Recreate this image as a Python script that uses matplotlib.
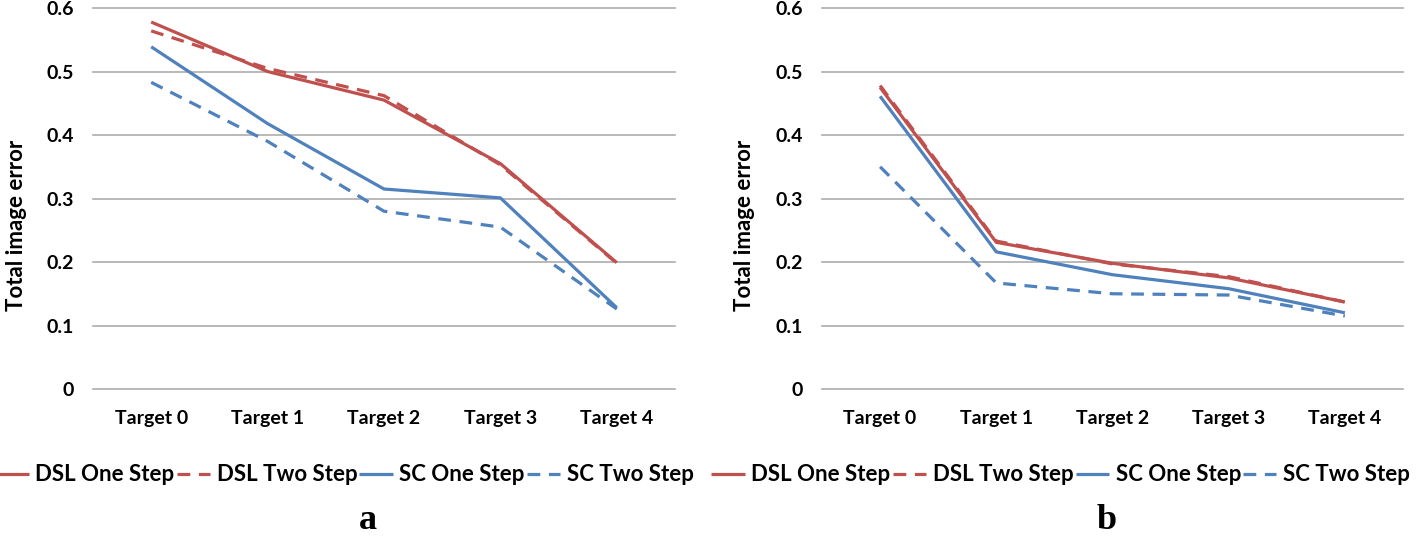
import matplotlib
matplotlib.use("Agg")
import matplotlib.pyplot as plt

# categorias del eje x
targets = ["Target 0", "Target 1", "Target 2", "Target 3", "Target 4"]
series_names = ["DSL One Step", "DSL Two Step", "SC One Step", "SC Two Step"]

# panel a
a_dsl_one = [0.578, 0.500, 0.455, 0.355, 0.199]
a_dsl_two = [0.564, 0.505, 0.462, 0.353, 0.198]
a_sc_one = [0.539, 0.418, 0.315, 0.301, 0.128]
a_sc_two = [0.483, 0.390, 0.280, 0.255, 0.126]

# panel b
b_dsl_one = [0.475, 0.231, 0.198, 0.175, 0.137]
b_dsl_two = [0.478, 0.233, 0.197, 0.177, 0.137]
b_sc_one = [0.461, 0.216, 0.180, 0.158, 0.120]
b_sc_two = [0.350, 0.167, 0.150, 0.148, 0.115]

yticks = [0, 0.1, 0.2, 0.3, 0.4, 0.5, 0.6]
ytick_labels = ["0", "0.1", "0.2", "0.3", "0.4", "0.5", "0.6"]

RED = "#C0504D"
BLUE = "#4F81BD"
GRID = "#ADADAD"
FONT = ["Lato", "DejaVu Sans"]

plt.rcParams["font.family"] = FONT
plt.rcParams["font.weight"] = "bold"


def panel(ax, dsl_one, dsl_two, sc_one, sc_two):
    x = list(range(len(targets)))
    styles = [(dsl_one, RED, None), (dsl_two, RED, (4, 2.7)),
              (sc_one, BLUE, None), (sc_two, BLUE, (4, 2.7))]
    lines = []
    for (vals, col, dash), name in zip(styles, series_names):
        ln, = ax.plot(x, vals, color=col, lw=2.3, label=name,
                      solid_capstyle="butt", dash_capstyle="butt")
        if dash is not None:
            ln.set_dashes(dash)
        lines.append(ln)
    ax.set_xlim(-0.5, len(targets) - 0.5)
    ax.set_ylim(0, 0.6)
    ax.set_yticks(yticks)
    ax.set_yticklabels(ytick_labels)
    ax.set_xticks(x)
    ax.set_xticklabels(targets)
    for y in yticks:
        ax.axhline(y, color=GRID, lw=1.2, zorder=0, clip_on=False)
    for s in ax.spines.values():
        s.set_visible(False)
    ax.tick_params(axis="y", length=0, pad=14, labelsize=14)
    ax.tick_params(axis="x", length=0, pad=15, labelsize=14)
    ax.set_ylabel("Total image error", fontsize=16, fontweight="bold")
    return lines


fig = plt.figure(figsize=(14.18, 5.37), dpi=100)
ax1 = fig.add_axes([0.0656, 0.2756, 0.4104, 0.7094])
ax2 = fig.add_axes([0.5797, 0.2756, 0.4097, 0.7094])

l1 = panel(ax1, a_dsl_one, a_dsl_two, a_sc_one, a_sc_two)
l2 = panel(ax2, b_dsl_one, b_dsl_two, b_sc_one, b_sc_two)
ax1.yaxis.set_label_coords(-0.113, 0.43)
ax2.yaxis.set_label_coords(-0.115, 0.43)

for lines, cx in [(l1, 0.243), (l2, 0.748)]:
    fig.legend(lines, series_names, loc="center", bbox_to_anchor=(cx, 0.1155),
               ncol=4, frameon=False, fontsize=16, handlelength=1.5,
               handletextpad=0.3, columnspacing=0.1, borderaxespad=0)

fig.text(0.2595, 0.0, "a", ha="center", va="bottom", fontsize=26,
         fontweight="bold", family="Liberation Serif")
fig.text(0.7807, 0.0, "b", ha="center", va="bottom", fontsize=26,
         fontweight="bold", family="Liberation Serif")

plt.savefig("out.png", dpi=100)
